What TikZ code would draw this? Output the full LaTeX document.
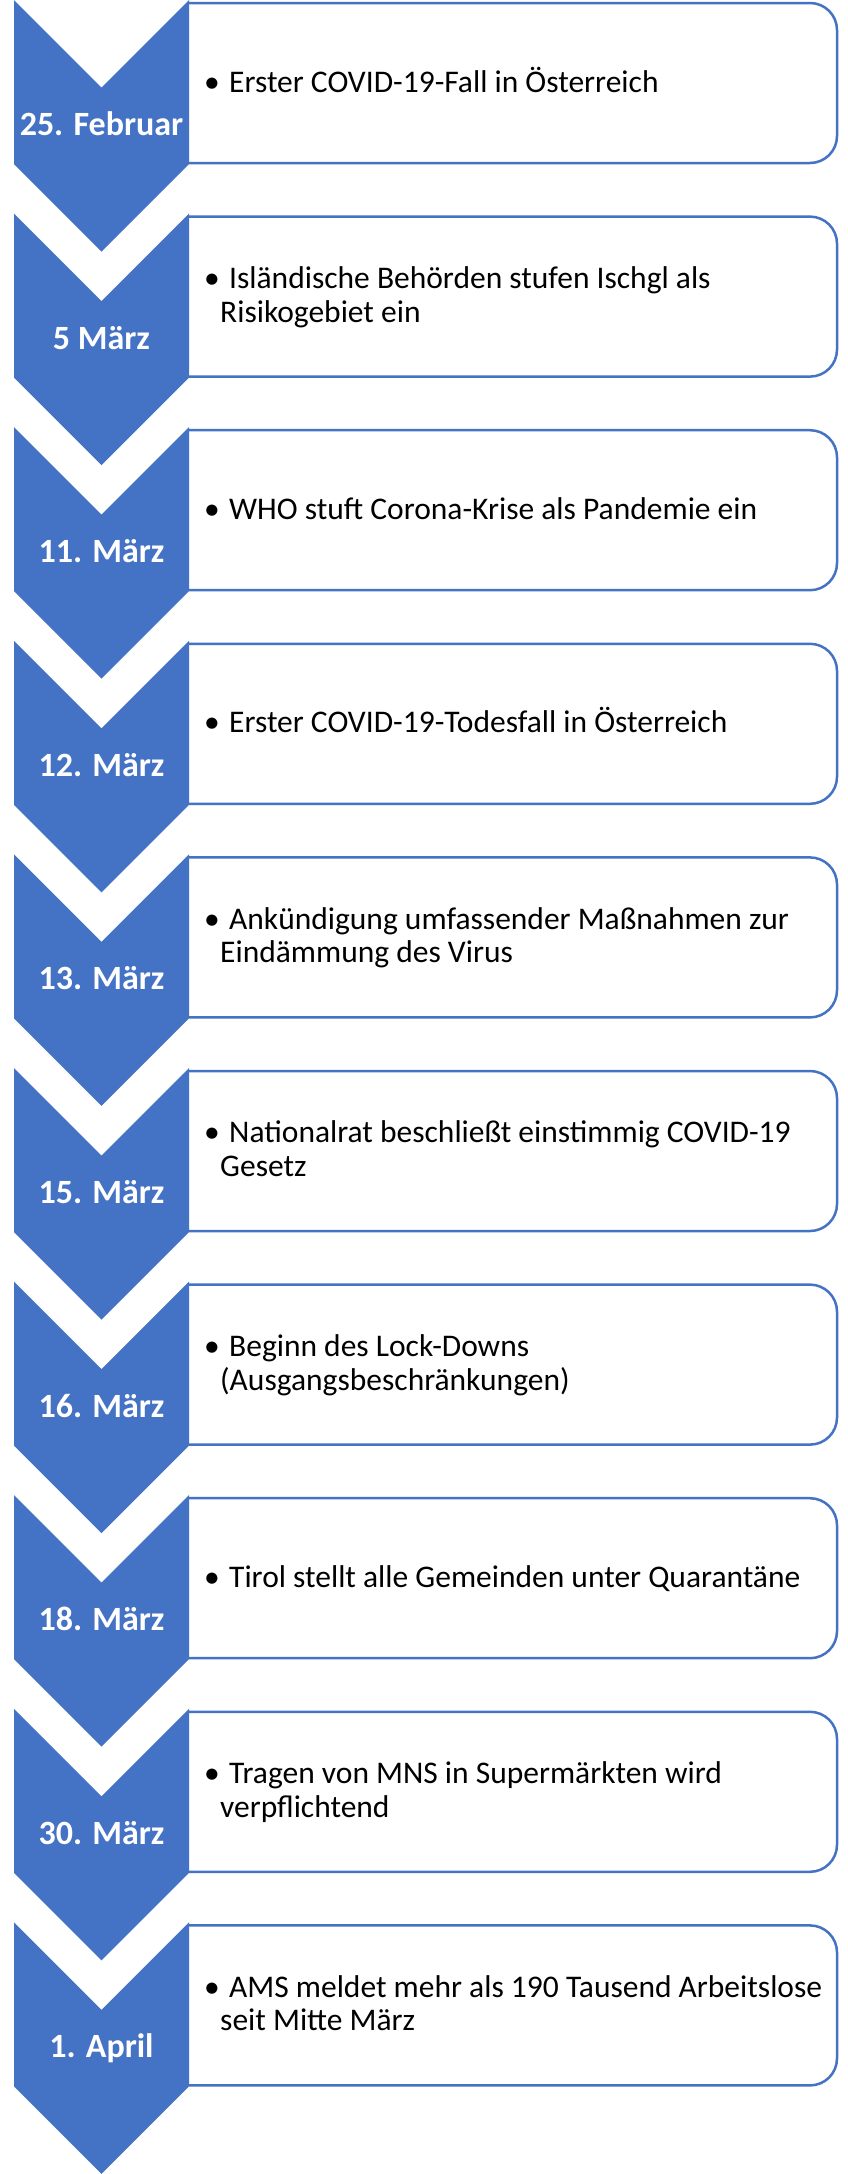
\documentclass[tikz,border=0pt]{standalone}
\usepackage{fontspec}
\setmainfont{Carlito}
\definecolor{cblue}{HTML}{4472C4}
\tikzset{
  chev/.style={fill=cblue, draw=none},
  card/.style={fill=white, draw=cblue, line width=2.5pt, rounded corners=27pt},
  datelbl/.style={text=white, font=\fontsize{34}{34}\selectfont\bfseries, inner sep=0pt, anchor=base},
  item/.style={text=black, font=\fontsize{31.5}{34}\selectfont, inner sep=0pt, anchor=base west},
}
\newcommand\tlshape[2]{%
  \pgfmathsetmacro\T{#1*213.6}
  \draw[card] (189,\T+3) -- (837,\T+3) -- (837,\T+163) -- (189,\T+163);
  \fill[chev] (14,\T) -- (101.5,\T+87.5) -- (189,\T) -- (189,\T+164) -- (101.5,\T+251.5) -- (14,\T+164) -- cycle;
  \node[datelbl] (d#1) at (101.5,\T+135.5) {#2};
}
\newcommand\tlone[3]{%
  \tlshape{#1}{#2}
  \node[item] (a#1) at (204,\T+92) {\makebox[25pt][l]{•}#3};
}
\newcommand\tltwo[4]{%
  \tlshape{#1}{#2}
  \node[item] (a#1) at (204,\T+74.6) {\makebox[25pt][l]{•}#3};
  \node[item] (b#1) at (220,\T+108.4) {#4};
}
\begin{document}
\begin{tikzpicture}[x=1pt,y=-1pt]
  \fill[white] (0,0) rectangle (847,2174);
  \useasboundingbox (0,0) rectangle (847,2174);
  \tlone{0}{25. Februar}{Erster COVID-19-Fall in Österreich}
  \tltwo{1}{5 März}{Isländische Behörden stufen Ischgl als}{Risikogebiet ein}
  \tlone{2}{11. März}{WHO stuft Corona-Krise als Pandemie ein}
  \tlone{3}{12. März}{Erster COVID-19-Todesfall in Österreich}
  \tltwo{4}{13. März}{Ankündigung umfassender Maßnahmen zur}{Eindämmung des Virus}
  \tltwo{5}{15. März}{Nationalrat beschließt einstimmig COVID-19}{Gesetz}
  \tltwo{6}{16. März}{Beginn des Lock-Downs}{(Ausgangsbeschränkungen)}
  \tlone{7}{18. März}{Tirol stellt alle Gemeinden unter Quarantäne}
  \tltwo{8}{30. März}{Tragen von MNS in Supermärkten wird}{verpflichtend}
  \tltwo{9}{1. April}{AMS meldet mehr als 190 Tausend Arbeitslose}{seit Mitte März}
\end{tikzpicture}
\end{document}
